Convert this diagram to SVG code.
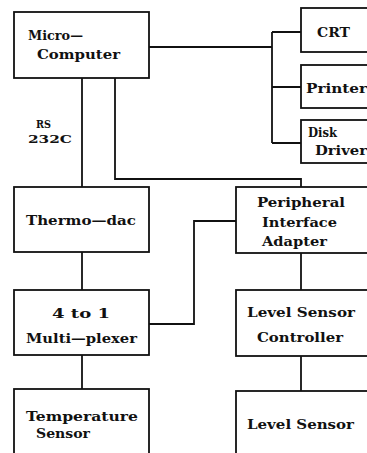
<svg xmlns="http://www.w3.org/2000/svg" width="367" height="453" viewBox="0 0 367 453">
<style>
.box{fill:#fff;stroke:#111;stroke-width:1.8}
.ln{fill:none;stroke:#111;stroke-width:1.8}
text{font-family:"DejaVu Serif","Liberation Serif",serif;font-weight:bold;font-size:13.5px;fill:#111}
.sm{font-size:11.5px}
</style>
<rect width="367" height="453" fill="#fff"/>
<g id="connectors">
<path class="ln" d="M149,47 H272"/>
<path class="ln" d="M272,32 V143"/>
<path class="ln" d="M272,32 H301 M272,87 H301 M272,143 H301"/>
<path class="ln" d="M82,78 V187"/>
<path class="ln" d="M115,78 V179 H301 V187"/>
<path class="ln" d="M82,252 V290"/>
<path class="ln" d="M149,324 H194 V221 H236"/>
<path class="ln" d="M82,355 V389"/>
<path class="ln" d="M301,253 V290"/>
<path class="ln" d="M301,356 V391"/>
<text class="sm" x="36" y="128" textLength="15" lengthAdjust="spacingAndGlyphs">RS</text>
<text class="sm" x="28" y="143" textLength="44" lengthAdjust="spacingAndGlyphs">232C</text>
</g>
<g id="micro">
<rect class="box" x="14" y="12" width="135" height="66"/>
<text x="28" y="40" textLength="55" lengthAdjust="spacingAndGlyphs">Micro—</text>
<text x="37" y="59" textLength="83" lengthAdjust="spacingAndGlyphs">Computer</text>
</g>
<g id="crt">
<rect class="box" x="301" y="8" width="72" height="44"/>
<text x="317" y="37" textLength="33" lengthAdjust="spacingAndGlyphs">CRT</text>
</g>
<g id="printer">
<rect class="box" x="301" y="65" width="72" height="43"/>
<text x="306" y="93" textLength="61" lengthAdjust="spacingAndGlyphs">Printer</text>
</g>
<g id="disk">
<rect class="box" x="301" y="120" width="72" height="43"/>
<text x="308" y="137" textLength="29" lengthAdjust="spacingAndGlyphs">Disk</text>
<text x="315" y="155" textLength="52" lengthAdjust="spacingAndGlyphs">Driver</text>
</g>
<g id="thermodac">
<rect class="box" x="14" y="187" width="135" height="65"/>
<text x="26" y="225" textLength="110" lengthAdjust="spacingAndGlyphs">Thermo—dac</text>
</g>
<g id="pia">
<rect class="box" x="236" y="187" width="137" height="66"/>
<text x="257" y="207" textLength="88" lengthAdjust="spacingAndGlyphs">Peripheral</text>
<text x="262" y="227" textLength="75" lengthAdjust="spacingAndGlyphs">Interface</text>
<text x="262" y="246" textLength="65" lengthAdjust="spacingAndGlyphs">Adapter</text>
</g>
<g id="mux">
<rect class="box" x="14" y="290" width="135" height="65"/>
<text x="52" y="318" textLength="58" lengthAdjust="spacingAndGlyphs">4 to 1</text>
<text x="26" y="343" textLength="111" lengthAdjust="spacingAndGlyphs">Multi—plexer</text>
</g>
<g id="lsc">
<rect class="box" x="236" y="290" width="137" height="66"/>
<text x="247" y="317" textLength="108" lengthAdjust="spacingAndGlyphs">Level Sensor</text>
<text x="257" y="342" textLength="86" lengthAdjust="spacingAndGlyphs">Controller</text>
</g>
<g id="temp">
<rect class="box" x="14" y="389" width="135" height="75"/>
<text x="26" y="421" textLength="112" lengthAdjust="spacingAndGlyphs">Temperature</text>
<text x="36" y="438" textLength="54" lengthAdjust="spacingAndGlyphs">Sensor</text>
</g>
<g id="levelsensor">
<rect class="box" x="236" y="391" width="137" height="73"/>
<text x="247" y="429" textLength="107" lengthAdjust="spacingAndGlyphs">Level Sensor</text>
</g>
</svg>
